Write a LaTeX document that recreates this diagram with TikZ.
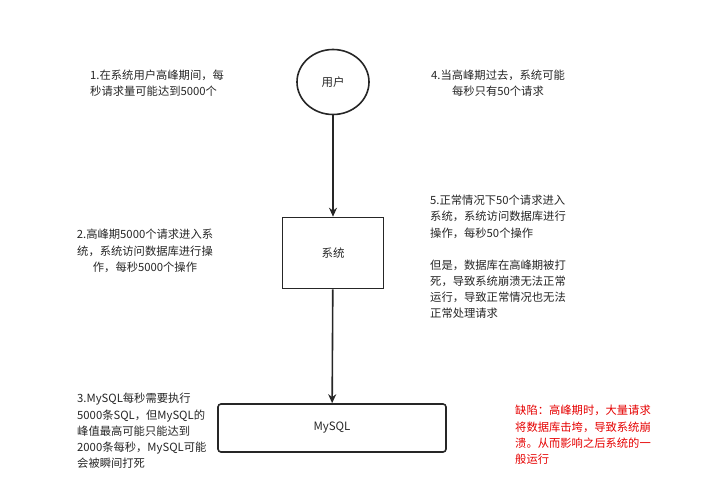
\documentclass[tikz,border=0pt]{standalone}
\usepackage{fontspec}
\setmainfont{Noto Sans CJK SC}
\usetikzlibrary{shapes.geometric,arrows.meta}
\begin{document}
\begin{tikzpicture}[x=1pt,y=-1pt,
  shapebox/.style={draw=black!85,line width=1.6pt,font=\fontsize{11.5}{14}\selectfont,text=black!85},
  note/.style={inner sep=0pt,font=\fontsize{11.3}{16.2}\selectfont,text=black!85},
  conn/.style={draw=black!85,line width=1.6pt,-{Stealth[length=9pt,width=8pt]}}]
\useasboundingbox (0,0) rectangle (708,485);
\node[shapebox,ellipse,minimum width=72pt,minimum height=65pt,inner sep=0pt] (user) at (333,82) {用户};
\node[shapebox,rectangle,minimum width=101pt,minimum height=71pt,inner sep=0pt] (sys) at (333,253) {系统};
\node[shapebox,rectangle,rounded corners=3pt,minimum width=228pt,minimum height=48pt,inner sep=0pt] (db) at (332,428) {MySQL};
\draw[conn] (user) -- (sys);
\draw[conn] (sys) -- (db);
\node[note,align=left,anchor=west] (t1) at (90,83) {1.在系统用户高峰期间，每\\秒请求量可能达到5000个};
\node[note,align=center] (t4) at (498,83) {4.当高峰期过去，系统可能\\每秒只有50个请求};
\node[note,align=center] (t2) at (145,251) {2.高峰期5000个请求进入系\\统，系统访问数据库进行操\\作，每秒5000个操作};
\node[note,align=left,anchor=west] (t5) at (430,257) {5.正常情况下50个请求进入\\系统，系统访问数据库进行\\操作，每秒50个操作\\[16pt]但是，数据库在高峰期被打\\死，导致系统崩溃无法正常\\运行，导致正常情况也无法\\正常处理请求};
\node[note,align=left,anchor=west] (t3) at (77,431) {3.MySQL每秒需要执行\\5000条SQL，但MySQL的\\峰值最高可能只能达到\\2000条每秒，MySQL可能\\会被瞬间打死};
\node[note,align=left,anchor=west,text=red!90!black] (t6) at (515,435) {缺陷：高峰期时，大量请求\\将数据库击垮，导致系统崩\\溃。从而影响之后系统的一\\般运行};
\end{tikzpicture}
\end{document}
